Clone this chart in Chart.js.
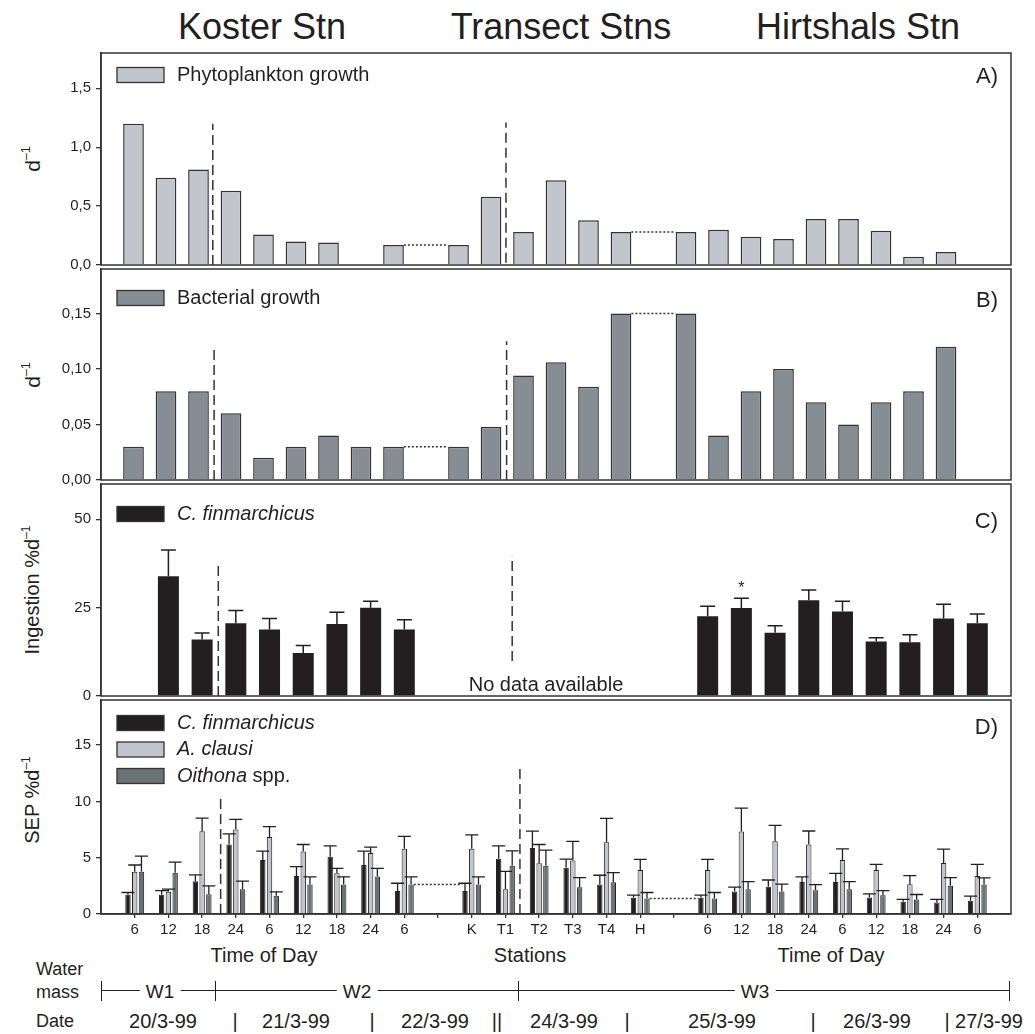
<!DOCTYPE html>
<html>
<head>
<meta charset="utf-8">
<script src="https://cdn.jsdelivr.net/npm/chart.js@4.4.1/dist/chart.umd.min.js"></script>
<style>
  html, body { margin: 0; padding: 0; background: #fff; }
  #wrap { position: relative; width: 1035px; height: 1034px; overflow: hidden;
          font-family: "Liberation Sans", Arial, Helvetica, sans-serif; color: #231f20; }
  canvas { position: absolute; left: 0; }
  .t { position: absolute; white-space: nowrap; line-height: 1; }
  .c { transform: translate(-50%, -50%); }
  .rot { transform: translate(-50%, -50%) rotate(-90deg); }
  sup { font-size: 0.6em; vertical-align: 0.75em; line-height: 0; }
  .wl { background: #fff; padding: 0 6px; }
  .hl { position: absolute; border-top: 1.3px solid #231f20; height: 0; }
  .vl { position: absolute; border-left: 1.3px solid #231f20; width: 0; }
</style>
</head>
<body>
<div id="wrap">
  <div class="t c" style="left:262px;top:27px;font-size:36px">Koster Stn</div>
  <div class="t c" style="left:561px;top:27px;font-size:36px">Transect Stns</div>
  <div class="t c" style="left:858px;top:27px;font-size:36px">Hirtshals Stn</div>

  <div class="t rot" style="left:32px;top:159px;font-size:21px">d<sup>–1</sup></div>
  <div class="t rot" style="left:32px;top:375px;font-size:21px">d<sup>–1</sup></div>
  <div class="t rot" style="left:32px;top:590px;font-size:20px">Ingestion %d<sup>–1</sup></div>
  <div class="t rot" style="left:32px;top:800px;font-size:20px">SEP %d<sup>–1</sup></div>

  <canvas id="cA" width="1035" height="240" style="top:39px"></canvas>
  <canvas id="cB" width="1035" height="239" style="top:255px"></canvas>
  <canvas id="cC" width="1035" height="240" style="top:470px"></canvas>
  <canvas id="cD" width="1035" height="256" style="top:686px"></canvas>

  <div class="t c" style="left:546px;top:684px;font-size:20px">No data available</div>

  <div class="t c" style="left:264px;top:955px;font-size:20px">Time of Day</div>
  <div class="t c" style="left:530px;top:955px;font-size:20px">Stations</div>
  <div class="t c" style="left:831px;top:955px;font-size:20px">Time of Day</div>

  <div class="t" style="left:36px;top:960px;font-size:18px">Water</div>
  <div class="t" style="left:36px;top:983px;font-size:18px">mass</div>
  <div class="hl" style="left:101px;top:990px;width:909px"></div>
  <div class="vl" style="left:101px;top:981px;height:20px"></div>
  <div class="vl" style="left:215px;top:981px;height:20px"></div>
  <div class="vl" style="left:518px;top:981px;height:20px"></div>
  <div class="vl" style="left:1009px;top:981px;height:20px"></div>
  <div class="t c wl" style="left:160px;top:991px;font-size:19px">W1</div>
  <div class="t c wl" style="left:357px;top:991px;font-size:19px">W2</div>
  <div class="t c wl" style="left:755px;top:991px;font-size:19px">W3</div>

  <div class="t" style="left:36px;top:1012px;font-size:18px">Date</div>
  <div class="t c" style="left:163px;top:1021px;font-size:20px">20/3-99</div>
  <div class="t c" style="left:235px;top:1021px;font-size:20px">|</div>
  <div class="t c" style="left:296px;top:1021px;font-size:20px">21/3-99</div>
  <div class="t c" style="left:372px;top:1021px;font-size:20px">|</div>
  <div class="t c" style="left:435px;top:1021px;font-size:20px">22/3-99</div>
  <div class="t c" style="left:497px;top:1021px;font-size:20px">||</div>
  <div class="t c" style="left:564px;top:1021px;font-size:20px">24/3-99</div>
  <div class="t c" style="left:627px;top:1021px;font-size:20px">|</div>
  <div class="t c" style="left:722px;top:1021px;font-size:20px">25/3-99</div>
  <div class="t c" style="left:813px;top:1021px;font-size:20px">|</div>
  <div class="t c" style="left:877px;top:1021px;font-size:20px">26/3-99</div>
  <div class="t c" style="left:947px;top:1021px;font-size:20px">|</div>
  <div class="t c" style="left:989px;top:1021px;font-size:20px">27/3-99</div>
</div>

<script>
// Sampling slots: time of day at Koster, transect stations, time of day at Hirtshals.
const slotLabels = ['6', '12', '18', '24', '6', '12', '18', '24', '6', '',
                    'K', 'T1', 'T2', 'T3', 'T4', 'H', '',
                    '6', '12', '18', '24', '6', '12', '18', '24', '6'];

// A) phytoplankton growth rate (d-1)
const phytoGrowth = [1.20, 0.74, 0.81, 0.63, 0.26, 0.20, 0.19, null, 0.17, null,
                     0.17, 0.58, 0.28, 0.72, 0.38, 0.28, null,
                     0.28, 0.30, 0.24, 0.22, 0.39, 0.39, 0.29, 0.07, 0.11];

// B) bacterial growth rate (d-1)
const bactGrowth = [0.030, 0.080, 0.080, 0.060, 0.020, 0.030, 0.040, 0.030, 0.030, null,
                    0.030, 0.048, 0.094, 0.106, 0.084, 0.150, null,
                    0.150, 0.040, 0.080, 0.100, 0.070, 0.050, 0.070, 0.080, 0.120];

// C) C. finmarchicus ingestion (% d-1) with upper error
const ingestion    = [null, 33.9, 16.0, 20.6, 18.8, 12.2, 20.4, 25.0, 18.8, null,
                      null, null, null, null, null, null, null,
                      22.6, 24.9, 17.9, 27.1, 23.9, 15.4, 15.2, 21.9, 20.6];
const ingestionErr = [null, 7.4, 1.8, 3.6, 3.1, 2.1, 3.3, 1.8, 2.8, null,
                      null, null, null, null, null, null, null,
                      2.8, 2.8, 2.0, 2.9, 2.9, 1.1, 2.1, 4.1, 2.6];

// D) specific egg production (% d-1) per species, with upper errors
const sepCalanus    = [1.70, 1.70, 2.91, 6.17, 4.79, 3.38, 5.08, 4.35, 2.05, null,
                       2.05, 4.90, 5.87, 4.11, 2.61, 1.44, null,
                       1.44, 1.99, 2.43, 2.85, 2.85, 1.47, 1.08, 1.02, 1.17];
const sepCalanusErr = [0.21, 0.38, 0.56, 0.94, 0.79, 0.82, 0.97, 1.23, 0.68, null,
                       0.68, 1.15, 1.48, 0.77, 0.83, 0.23, null,
                       0.23, 0.39, 0.59, 0.44, 0.76, 0.32, 0.21, 0.27, 0.42];
const sepAcartia    = [3.76, 1.97, 7.35, 7.50, 6.84, 5.56, 3.61, 5.41, 5.79, null,
                       5.79, 2.20, 4.50, 4.76, 6.38, 3.91, null,
                       3.91, 7.32, 6.46, 6.17, 4.79, 3.91, 2.65, 4.52, 3.38];
const sepAcartiaErr = [0.59, 0.23, 1.17, 0.90, 0.92, 0.61, 0.44, 0.53, 1.11, null,
                       1.23, 1.59, 1.67, 1.68, 2.11, 0.94, null,
                       0.94, 2.08, 1.41, 1.20, 1.00, 0.50, 0.75, 1.24, 1.03];
const sepOithona    = [3.76, 3.67, 1.76, 2.20, 1.61, 2.61, 2.61, 3.32, 2.61, null,
                       2.61, 4.29, 4.29, 2.38, 2.82, 1.38, null,
                       1.38, 2.20, 1.99, 2.11, 2.20, 1.67, 1.29, 2.50, 2.61];
const sepOithonaErr = [1.38, 0.94, 0.74, 0.71, 0.36, 0.68, 0.68, 0.73, 0.68, null,
                       0.68, 1.32, 1.38, 0.85, 0.85, 0.53, null,
                       0.53, 0.68, 0.66, 0.50, 0.68, 0.41, 0.44, 0.73, 0.59];

const INK = '#231f20';
const LINE = '#333333';
const FONT = '"Liberation Sans", Arial, Helvetica, sans-serif';
Chart.defaults.font.family = FONT;
Chart.defaults.color = INK;

const toPoints = vals => vals.map((v, i) => ({ x: i, y: v })).filter(p => p.y !== null);

// Frame, legend, panel letter, station dividers, connectors, error bars and markers.
const panelDeco = {
  id: 'panelDeco',
  afterDatasetsDraw(chart, args, o) {
    const { ctx, chartArea: a, scales } = chart;
    const xs = scales.x, ys = scales.y;
    ctx.save();

    // dotted links between repeated samples
    (o.connectors || []).forEach(c => {
      const mFrom = chart.getDatasetMeta(c.dsFrom), mTo = chart.getDatasetMeta(c.dsTo);
      const dFrom = chart.data.datasets[c.dsFrom].data;
      const dTo = chart.data.datasets[c.dsTo].data;
      const iFrom = dFrom.findIndex(p => p.x === c.from);
      const iTo = dTo.findIndex(p => p.x === c.to);
      const eFrom = mFrom.data[iFrom], eTo = mTo.data[iTo];
      const y = ys.getPixelForValue(dFrom[iFrom].y);
      ctx.beginPath();
      ctx.setLineDash([2, 2]);
      ctx.lineWidth = 1.5;
      ctx.strokeStyle = LINE;
      ctx.moveTo(eFrom.x + eFrom.width / 2, y);
      ctx.lineTo(eTo.x - eTo.width / 2, y);
      ctx.stroke();
    });

    // error bars (upper only)
    chart.data.datasets.forEach((ds, di) => {
      if (!ds.errors) return;
      const meta = chart.getDatasetMeta(di);
      ctx.setLineDash([]);
      ctx.lineWidth = o.errWidth || 1.3;
      ctx.strokeStyle = INK;
      meta.data.forEach((el, j) => {
        const p = ds.data[j];
        const e = ds.errors[p.x];
        if (e === null || e === undefined) return;
        const yTop = ys.getPixelForValue(p.y + e);
        ctx.beginPath();
        ctx.moveTo(el.x, el.y);
        ctx.lineTo(el.x, yTop);
        ctx.moveTo(el.x - o.capWidth / 2, yTop);
        ctx.lineTo(el.x + o.capWidth / 2, yTop);
        ctx.stroke();
      });
    });

    // significance markers
    (o.markers || []).forEach(m => {
      const ds = chart.data.datasets[m.ds];
      const j = ds.data.findIndex(p => p.x === m.slot);
      const el = chart.getDatasetMeta(m.ds).data[j];
      const top = ds.data[j].y + (ds.errors ? ds.errors[m.slot] : 0);
      ctx.font = '16px ' + FONT;
      ctx.fillStyle = INK;
      ctx.textAlign = 'center';
      ctx.textBaseline = 'middle';
      ctx.fillText(m.text, el.x, ys.getPixelForValue(top) - 10);
    });

    // dashed station dividers
    (o.dividers || []).forEach(d => {
      ctx.beginPath();
      ctx.setLineDash([10, 5]);
      ctx.lineWidth = 1.5;
      ctx.strokeStyle = LINE;
      const x = xs.getPixelForValue(d.x);
      ctx.moveTo(x, ys.getPixelForValue(d.y0));
      ctx.lineTo(x, ys.getPixelForValue(d.y1));
      ctx.stroke();
    });

    // panel frame
    ctx.setLineDash([]);
    ctx.lineWidth = 1.5;
    ctx.strokeStyle = LINE;
    ctx.strokeRect(a.left, a.top, a.right - a.left, a.bottom - a.top);

    // legend
    (o.legend || []).forEach((item, i) => {
      const cy = a.top + o.legendDy + i * (o.rowGap || 0);
      ctx.fillStyle = item.fill;
      ctx.fillRect(a.left + 16, cy - 7.5, 47, 15);
      ctx.lineWidth = 1.3;
      ctx.strokeStyle = LINE;
      ctx.strokeRect(a.left + 16, cy - 7.5, 47, 15);
      let x = a.left + 76;
      ctx.fillStyle = INK;
      ctx.textAlign = 'left';
      ctx.textBaseline = 'middle';
      item.parts.forEach(part => {
        ctx.font = (part.it ? 'italic ' : '') + '20px ' + FONT;
        ctx.fillText(part.t, x, cy);
        x += ctx.measureText(part.t).width;
      });
    });

    // panel letter
    ctx.font = '22px ' + FONT;
    ctx.fillStyle = INK;
    ctx.textAlign = 'right';
    ctx.textBaseline = 'middle';
    ctx.fillText(o.label, a.right - 13, a.top + o.labelDy);
    ctx.restore();
  }
};

function yAxis(max, step, fmt) {
  return {
    min: 0, max: max,
    ticks: { stepSize: step, includeBounds: false, callback: fmt,
             font: { size: 15 }, color: INK, padding: 5 },
    grid: { drawOnChartArea: false, drawTicks: true, tickLength: 5, color: LINE, lineWidth: 1.3 },
    border: { display: true, color: LINE, width: 1.5 },
    afterFit(s) { s.width = 101; }
  };
}

function hiddenX(max) {
  return { type: 'linear', min: -1, max: max, offset: false, display: false, ticks: { stepSize: 1 } };
}

function makeChart(id, datasets, scales, deco, bottomPad) {
  return new Chart(document.getElementById(id), {
    type: 'bar',
    data: { datasets },
    options: {
      responsive: false, animation: false, devicePixelRatio: 1, events: [],
      layout: { padding: { top: 12, right: 24, bottom: bottomPad, left: 0 } },
      scales,
      plugins: { legend: { display: false }, tooltip: { enabled: false }, panelDeco: deco }
    },
    plugins: [panelDeco]
  });
}

const comma = d => v => v.toFixed(d).replace('.', ',');

// A) Phytoplankton growth
makeChart('cA', [{
  data: toPoints(phytoGrowth), backgroundColor: '#c3c5cc', borderColor: LINE, borderWidth: 1.5,
  barPercentage: 0.637, categoryPercentage: 1
}], { x: hiddenX(27), y: yAxis(1.8, 0.5, comma(1)) }, {
  label: 'A)', labelDy: 24, legendDy: 22,
  legend: [{ parts: [{ t: 'Phytoplankton growth' }], fill: '#c3c5cc' }],
  dividers: [{ x: 2.44, y0: 0, y1: 1.2 }, { x: 11.46, y0: 0.02, y1: 1.21 }],
  connectors: [{ from: 8, to: 10, dsFrom: 0, dsTo: 0 }, { from: 15, to: 17, dsFrom: 0, dsTo: 0 }]
}, 12);

// B) Bacterial growth
makeChart('cB', [{
  data: toPoints(bactGrowth), backgroundColor: '#878d94', borderColor: LINE, borderWidth: 1.5,
  barPercentage: 0.637, categoryPercentage: 1
}], { x: hiddenX(27), y: yAxis(0.19, 0.05, comma(2)) }, {
  label: 'B)', labelDy: 32, legendDy: 29,
  legend: [{ parts: [{ t: 'Bacterial growth' }], fill: '#878d94' }],
  dividers: [{ x: 2.48, y0: 0, y1: 0.117 }, { x: 11.48, y0: 0, y1: 0.125 }],
  connectors: [{ from: 8, to: 10, dsFrom: 0, dsTo: 0 }, { from: 15, to: 17, dsFrom: 0, dsTo: 0 }]
}, 12);

// C) Ingestion
makeChart('cC', [{
  data: toPoints(ingestion), errors: ingestionErr, backgroundColor: INK, borderWidth: 0,
  barPercentage: 0.623, categoryPercentage: 1
}], { x: hiddenX(26), y: yAxis(60, 25, v => String(v)) }, {
  label: 'C)', labelDy: 38, legendDy: 30, capWidth: 15, errWidth: 1.5,
  legend: [{ parts: [{ t: 'C. finmarchicus', it: true }], fill: INK }],
  dividers: [{ x: 2.48, y0: 0, y1: 37.3 }, { x: 11.2, y0: 9.9, y1: 39.7 }],
  markers: [{ ds: 0, slot: 18, text: '*' }]
}, 12);

// D) Specific egg production
const sepStyle = { borderColor: '#222', borderWidth: 1, barPercentage: 0.8, categoryPercentage: 0.6 };
makeChart('cD', [
  Object.assign({ data: toPoints(sepCalanus), errors: sepCalanusErr, backgroundColor: INK }, sepStyle),
  Object.assign({ data: toPoints(sepAcartia), errors: sepAcartiaErr, backgroundColor: '#c3c5cc' }, sepStyle),
  Object.assign({ data: toPoints(sepOithona), errors: sepOithonaErr, backgroundColor: '#6b7275' }, sepStyle)
], {
  x: {
    type: 'linear', min: -1, max: 26, offset: false,
    afterBuildTicks(s) { s.ticks = slotLabels.map((_, i) => ({ value: i })); },
    ticks: { callback: v => slotLabels[v] || '', autoSkip: false, maxRotation: 0,
             font: { size: 15 }, color: INK, padding: 3 },
    grid: { drawOnChartArea: false, drawTicks: true, tickLength: 4, color: LINE, lineWidth: 1.3, offset: false },
    border: { display: true, color: LINE, width: 1.5 },
    afterFit(s) { s.height = 28; }
  },
  y: yAxis(19, 5, v => String(v))
}, {
  label: 'D)', labelDy: 28, legendDy: 23, rowGap: 26.5, capWidth: 13, errWidth: 1.3,
  legend: [
    { parts: [{ t: 'C. finmarchicus', it: true }], fill: INK },
    { parts: [{ t: 'A. clausi', it: true }], fill: '#c3c5cc' },
    { parts: [{ t: 'Oithona', it: true }, { t: ' spp.' }], fill: '#6b7275' }
  ],
  dividers: [{ x: 2.55, y0: 0, y1: 10.4 }, { x: 11.43, y0: 0, y1: 13.2 }],
  connectors: [{ from: 8, to: 10, dsFrom: 2, dsTo: 0 }, { from: 15, to: 17, dsFrom: 2, dsTo: 0 }]
}, 0);
</script>
</body>
</html>
